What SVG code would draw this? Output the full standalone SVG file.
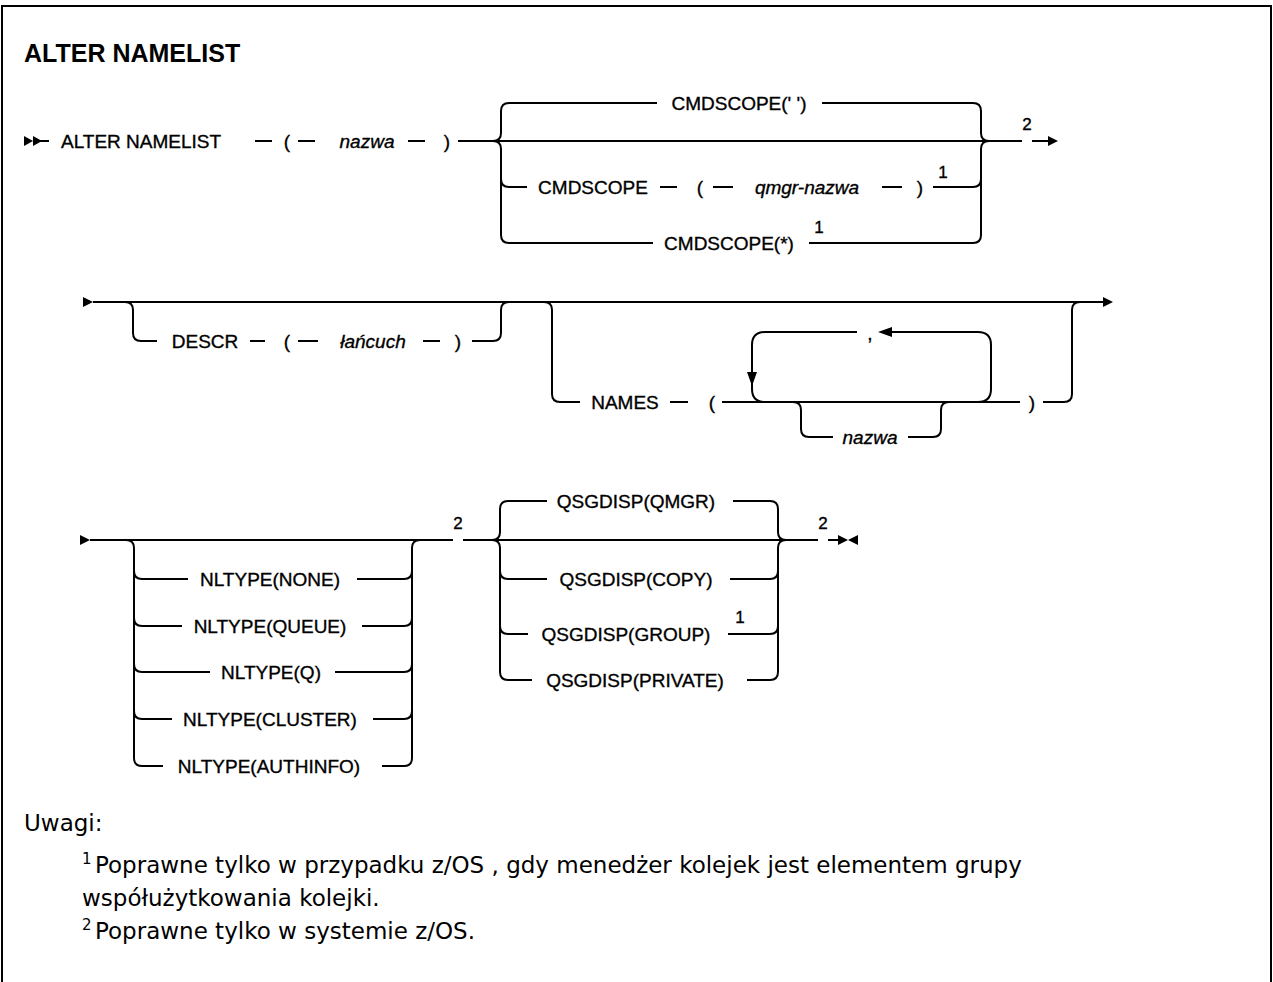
<svg xmlns="http://www.w3.org/2000/svg" width="1273" height="982" viewBox="0 0 1273 982">
  <style>
    .frame { fill: none; stroke: #000; stroke-width: 2; }
    .ln { fill: none; stroke: #000; stroke-width: 2; }
    .hd { fill: #000; stroke: none; }
    .t { font-family: "Liberation Sans", Arial, sans-serif; font-size: 19px; fill: #000; stroke: #000; stroke-width: 0.35; }
    .v { font-family: "Liberation Sans", Arial, sans-serif; font-size: 19px; font-style: italic; fill: #000; stroke: #000; stroke-width: 0.35; }
    .c { text-anchor: middle; }
    .sup { font-family: "Liberation Sans", Arial, sans-serif; font-size: 17px; fill: #000; stroke: #000; stroke-width: 0.35; text-anchor: middle; }
    .title { font-family: "Liberation Sans", Arial, sans-serif; font-size: 25px; font-weight: bold; fill: #000; }
    .note { font-family: "DejaVu Sans", sans-serif; font-size: 23px; fill: #000; }
    .nsup { font-family: "DejaVu Sans", sans-serif; font-size: 15px; fill: #000; }
  </style>

  <rect class="frame" x="2" y="6" width="1269" height="1000"/>
  <text class="title" x="24" y="62">ALTER NAMELIST</text>

  <!-- connectors: main lines, branch brackets and arrowheads -->
  <g id="connectors">
    <!-- row 1 -->
    <polygon class="hd" points="24,136 33,141 24,146"/>
    <polygon class="hd" points="33,136 42,141 33,146"/>
    <path class="ln" d="M33,141 H49 M255,141 H272 M298,141 H315 M408,141 H425 M458,141 H1022 M1032,141 H1050"/>
    <polygon class="hd" points="1048,136 1058,141 1048,146"/>
    <!-- CMDSCOPE choice -->
    <path class="ln" d="M493,141 Q501,141 501,133 V111 Q501,103 509,103 H657 M822,103 H973 Q981,103 981,111 V133 Q981,141 989,141"/>
    <path class="ln" d="M493,141 Q501,141 501,149 V235 Q501,243 509,243 H653 M501,179 Q501,187 509,187 H527"/>
    <path class="ln" d="M989,141 Q981,141 981,149 V235 Q981,243 973,243 H809 M981,179 Q981,187 973,187 H933"/>
    <path class="ln" d="M660,187 H677 M713,187 H733 M882,187 H902"/>

    <!-- row 2 -->
    <polygon class="hd" points="83,297 93,302 83,307"/>
    <path class="ln" d="M93,302 H1104"/>
    <polygon class="hd" points="1103,297 1113,302 1103,307"/>
    <!-- DESCR -->
    <path class="ln" d="M125,302 Q133,302 133,310 V333 Q133,341 141,341 H157 M250,341 H265 M298,341 H318 M423,341 H440 M472,341 H493 Q501,341 501,333 V310 Q501,302 509,302"/>
    <!-- NAMES -->
    <path class="ln" d="M544,302 Q552,302 552,310 V394 Q552,402 560,402 H580 M670,402 H688 M722,402 H1020 M1043,402 H1064 Q1072,402 1072,394 V310 Q1072,302 1080,302"/>
    <!-- repeat loop -->
    <path class="ln" d="M857,332 H765 Q752,332 752,345 V389 Q752,402 765,402 M891,332 H978 Q991,332 991,345 V389 Q991,402 978,402"/>
    <polygon class="hd" points="747,372 757,372 752,386"/>
    <polygon class="hd" points="878,332 892,327 892,337"/>
    <path class="ln" d="M793,402 Q801,402 801,410 V429 Q801,437 809,437 H833 M908,437 H933 Q941,437 941,429 V410 Q941,402 949,402"/>

    <!-- row 3 -->
    <polygon class="hd" points="80,535 90,540 80,545"/>
    <path class="ln" d="M90,540 H453 M463,540 H818 M828,540 H838"/>
    <polygon class="hd" points="838,535 848,540 838,545"/>
    <polygon class="hd" points="858,535 848,540 858,545"/>
    <!-- NLTYPE -->
    <path class="ln" d="M126,540 Q134,540 134,548 V758 Q134,766 142,766 H163 M382,766 H404 Q412,766 412,758 V548 Q412,540 420,540"/>
    <path class="ln" d="M134,571 Q134,579 142,579 H188 M357,579 H404 Q412,579 412,571"/>
    <path class="ln" d="M134,618 Q134,626 142,626 H182 M362,626 H404 Q412,626 412,618"/>
    <path class="ln" d="M134,664 Q134,672 142,672 H210 M335,672 H404 Q412,672 412,664"/>
    <path class="ln" d="M134,711 Q134,719 142,719 H172 M373,719 H404 Q412,719 412,711"/>
    <!-- QSGDISP -->
    <path class="ln" d="M492,540 Q500,540 500,532 V509 Q500,501 508,501 H547 M733,501 H770 Q778,501 778,509 V532 Q778,540 786,540"/>
    <path class="ln" d="M492,540 Q500,540 500,548 V672 Q500,680 508,680 H532 M747,680 H770 Q778,680 778,672 V548 Q778,540 786,540"/>
    <path class="ln" d="M500,571 Q500,579 508,579 H547 M730,579 H770 Q778,579 778,571"/>
    <path class="ln" d="M500,626 Q500,634 508,634 H528 M728,634 H770 Q778,634 778,626"/>
  </g>

  <g id="n-start"><text class="t" x="61" y="148">ALTER NAMELIST</text></g>
  <g id="n-name">
    <text class="t c" x="287" y="148">(</text>
    <text class="v c" x="367" y="148">nazwa</text>
    <text class="t c" x="447" y="148">)</text>
  </g>
  <g id="n-cmdscope-blank"><text class="t c" x="739" y="110">CMDSCOPE(' ')</text></g>
  <g id="n-cmdscope-qmgr">
    <text class="t c" x="593" y="194">CMDSCOPE</text>
    <text class="t c" x="700" y="194">(</text>
    <text class="v c" x="807" y="194">qmgr-nazwa</text>
    <text class="t c" x="920" y="194">)</text>
    <text class="sup" x="943" y="178">1</text>
  </g>
  <g id="n-cmdscope-all">
    <text class="t c" x="729" y="250">CMDSCOPE(*)</text>
    <text class="sup" x="819" y="233">1</text>
  </g>
  <g id="n-note2-row1"><text class="sup" x="1027" y="130">2</text></g>

  <g id="n-descr">
    <text class="t c" x="205" y="348">DESCR</text>
    <text class="t c" x="287" y="348">(</text>
    <text class="v c" x="373" y="348">łańcuch</text>
    <text class="t c" x="458" y="348">)</text>
  </g>
  <g id="n-names">
    <text class="t c" x="625" y="409">NAMES</text>
    <text class="t c" x="712" y="409">(</text>
    <text class="t c" x="870" y="340">,</text>
    <text class="v c" x="870" y="444">nazwa</text>
    <text class="t c" x="1032" y="409">)</text>
  </g>

  <g id="n-nltype">
    <text class="t c" x="270" y="586">NLTYPE(NONE)</text>
    <text class="t c" x="270" y="633">NLTYPE(QUEUE)</text>
    <text class="t c" x="271" y="679">NLTYPE(Q)</text>
    <text class="t c" x="270" y="726">NLTYPE(CLUSTER)</text>
    <text class="t c" x="269" y="773">NLTYPE(AUTHINFO)</text>
  </g>
  <g id="n-note2-nltype"><text class="sup" x="458" y="529">2</text></g>
  <g id="n-qsgdisp">
    <text class="t c" x="636" y="508">QSGDISP(QMGR)</text>
    <text class="t c" x="636" y="586">QSGDISP(COPY)</text>
    <text class="t c" x="626" y="641">QSGDISP(GROUP)</text>
    <text class="sup" x="740" y="623">1</text>
    <text class="t c" x="635" y="687">QSGDISP(PRIVATE)</text>
  </g>
  <g id="n-note2-end"><text class="sup" x="823" y="529">2</text></g>

  <g id="notes">
    <text class="note" x="24" y="831">Uwagi:</text>
    <text class="nsup" x="82" y="864">1</text>
    <text class="note" x="95" y="873">Poprawne tylko w przypadku z/OS , gdy menedżer kolejek jest elementem grupy</text>
    <text class="note" x="82" y="906">współużytkowania kolejki.</text>
    <text class="nsup" x="82" y="930">2</text>
    <text class="note" x="95" y="939">Poprawne tylko w systemie z/OS.</text>
  </g>
</svg>
